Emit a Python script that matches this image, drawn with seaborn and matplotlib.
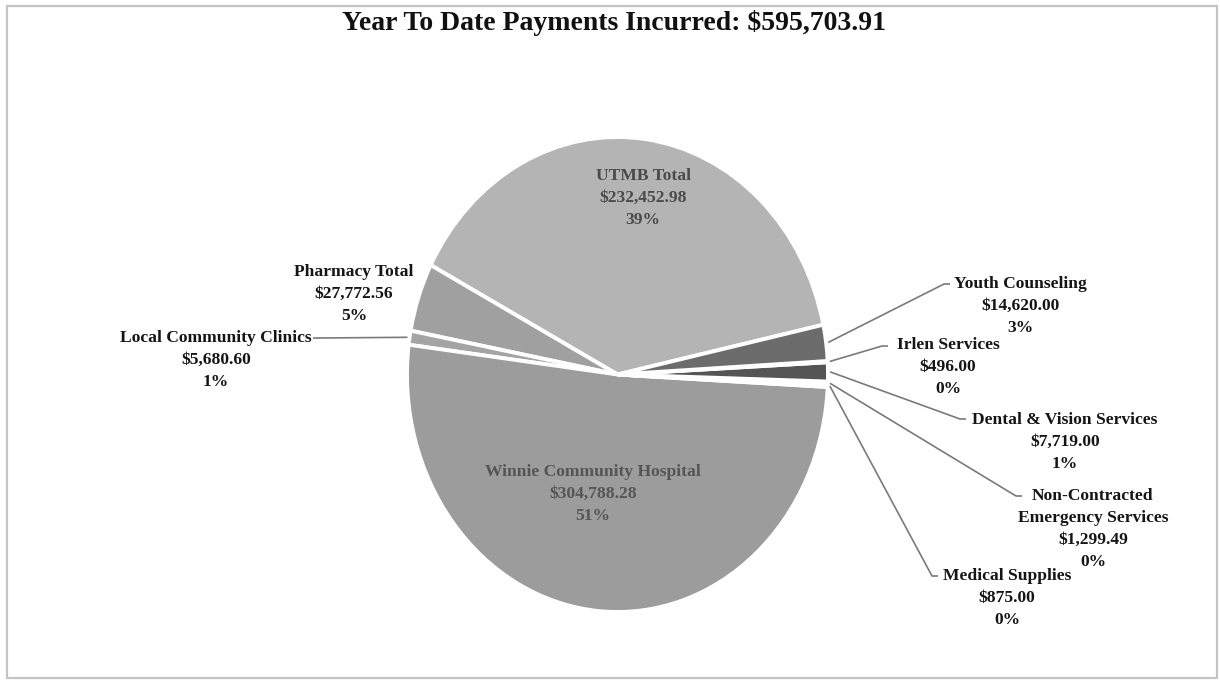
import matplotlib
matplotlib.use("Agg")
import matplotlib.pyplot as plt
import seaborn as sns
import numpy as np

# ---- data ----
categories = ["UTMB Total", "Pharmacy Total", "Local Community Clinics",
              "Winnie Community Hospital", "Medical Supplies",
              "Non-Contracted\nEmergency Services", "Dental & Vision Services",
              "Irlen Services", "Youth Counseling"]
amounts = [232452.98, 27772.56, 5680.60, 304788.28, 875.00, 1299.49,
           7719.00, 496.00, 14620.00]
amount_labels = ["$232,452.98", "$27,772.56", "$5,680.60", "$304,788.28",
                 "$875.00", "$1,299.49", "$7,719.00", "$496.00", "$14,620.00"]
percent_labels = ["39%", "5%", "1%", "51%", "0%", "0%", "1%", "0%", "3%"]
title_text = "Year To Date Payments Incurred: $595,703.91"

# ---- style ----
sns.set_theme(style="white")
plt.rcParams["font.family"] = ["Liberation Serif", "DejaVu Serif"]

slice_colors = ["#b4b4b4", "#a0a0a0", "#a4a4a4", "#9c9c9c", "#8a8a8a",
                "#909090", "#555555", "#7a7a7a", "#6c6c6c"]

W, H = 1220, 680
fig = plt.figure(figsize=(W / 100, H / 100), dpi=100)
fig.patch.set_facecolor("white")
ax = fig.add_axes([0, 0, 1, 1])

# pie geometry in pixels (ellipse, taller than wide)
cx, cy = 617.5, 374.5          # centre, pixels from top-left
rx, ry = 210.5, 237.5          # radii in pixels


def P(x, y):
    """pixel (from top-left) -> data coords"""
    return (x - cx) / rx, (cy - y) / ry


wedges, _ = ax.pie(amounts, colors=slice_colors, startangle=12.1,
                   counterclock=True, radius=1.0,
                   wedgeprops=dict(edgecolor="white", linewidth=2.8),
                   frame=True)
ax.set_aspect("auto")
ax.set_xlim(-cx / rx, (W - cx) / rx)
ax.set_ylim(-(H - cy) / ry, cy / ry)
ax.axis("off")

# label placement (block centre in pixels, leader end in pixels or None)
label_pos = {
    "UTMB Total": ((643, 198), None),
    "Winnie Community Hospital": ((593, 494), None),
    "Pharmacy Total": ((354, 294), None),
    "Local Community Clinics": ((216, 360), (313, 338)),
    "Youth Counseling": ((1020, 306), (950, 284)),
    "Irlen Services": ((948, 367), (888, 346)),
    "Dental & Vision Services": ((1065, 442), (966, 419)),
    "Non-Contracted\nEmergency Services": ((1093, 529), (1022, 496)),
    "Medical Supplies": ((1007, 598), (938, 576)),
}
inside = {"UTMB Total": "#4a4a4a", "Winnie Community Hospital": "#555555"}

for w, cat, amt, pct in zip(wedges, categories, amount_labels, percent_labels):
    (tx, ty), lead = label_pos[cat]
    txt = f"{cat}\n{amt}\n{pct}"
    color = inside.get(cat, "#151515")
    ax.text(*P(tx, ty), txt, ha="center", va="center", ma="center",
            fontsize=12.6, fontweight="bold", color=color, linespacing=1.52)
    if lead is not None:
        mid = np.deg2rad((w.theta1 + w.theta2) / 2)
        sx, sy = np.cos(mid) * 1.01, np.sin(mid) * 1.01
        ex, ey = P(*lead)
        side = 1 if lead[0] > cx else -1
        kx, ky = P(lead[0] - side * 6, lead[1])
        ax.plot([sx, kx, ex], [sy, ky, ey], color="#7a7a7a", lw=1.2,
                solid_capstyle="butt", clip_on=False)

fig.text(614 / W, 1 - 23 / H, title_text, ha="center", va="center",
         fontsize=20, fontweight="bold", color="#111111")

# light outer frame of the chart area
frame = plt.Rectangle((7 / W, 2 / H), (W - 10) / W, (H - 8) / H,
                      transform=fig.transFigure, fill=False,
                      edgecolor="#c4c4c4", lw=1.6)
fig.patches.append(frame)

fig.savefig("out.png", dpi=100, facecolor="white")
